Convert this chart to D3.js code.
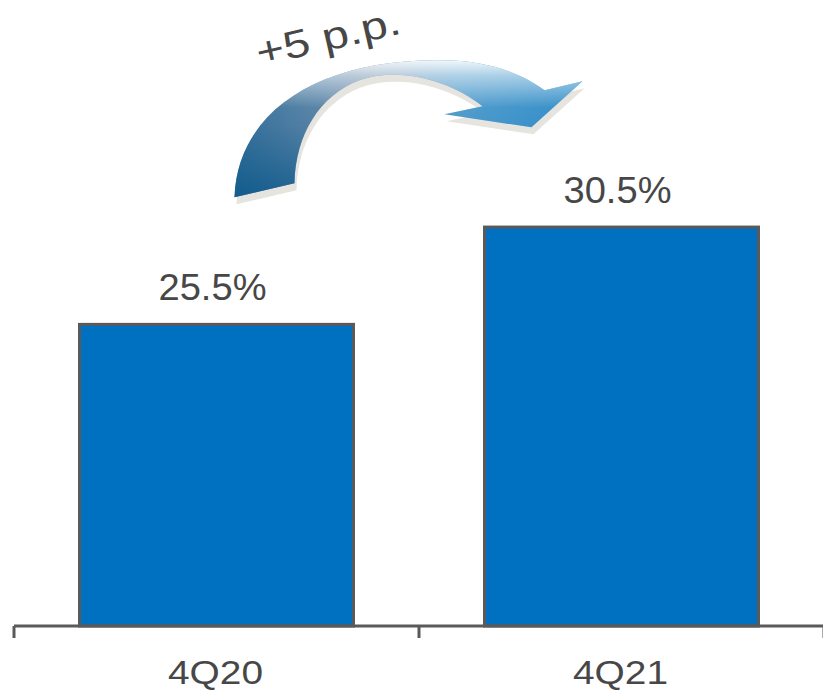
<!DOCTYPE html>
<html>
<head>
<meta charset="utf-8">
<script src="https://cdn.jsdelivr.net/npm/d3@7"></script>
<style>
  html, body { margin: 0; padding: 0; background: #ffffff; }
  svg { display: block; }
</style>
</head>
<body>
<div id="chart"></div>
<script>
const categories = ["4Q20", "4Q21"];
const values = [25.5, 30.5];
const valueLabels = ["25.5%", "30.5%"];
const changeLabel = "+5 p.p.";

const W = 823, H = 691;
const svg = d3.select("#chart").append("svg")
  .attr("width", W).attr("height", H);

const baseY = 626;
const x = d3.scaleBand().domain(categories).range([14, 824])
  .paddingInner(0.3235).paddingOuter(0.3235 / 2);
const y = d3.scaleLinear().domain([10, 40]).range([baseY, baseY - 30 * 19.46]);

const textColor = "#474747";
const edge = "#5a5a5a";

// bars
svg.selectAll("rect.bar").data(values).enter().append("rect")
  .attr("class", "bar")
  .attr("x", (d, i) => x(categories[i]))
  .attr("y", d => y(d))
  .attr("width", x.bandwidth())
  .attr("height", d => y.range()[0] - y(d))
  .attr("fill", "#0070c0")
  .attr("stroke", edge)
  .attr("stroke-width", 3);

// axis
const step = x.step();
const r0 = x.range()[0];
svg.append("line")
  .attr("x1", r0).attr("x2", W)
  .attr("y1", baseY).attr("y2", baseY)
  .attr("stroke", edge).attr("stroke-width", 3);
d3.range(categories.length + 1).forEach(i => {
  svg.append("line")
    .attr("x1", r0 + i * step).attr("x2", r0 + i * step)
    .attr("y1", baseY).attr("y2", baseY + 12)
    .attr("stroke", edge).attr("stroke-width", 3);
});

// category labels
svg.selectAll("text.cat").data(categories).enter().append("text")
  .attr("class", "cat")
  .attr("x", d => x(d) + x.bandwidth() / 2 - 1)
  .attr("y", 684)
  .attr("text-anchor", "middle")
  .attr("font-family", "Liberation Sans, Arial, sans-serif")
  .attr("font-size", 33)
  .attr("textLength", 95)
  .attr("lengthAdjust", "spacingAndGlyphs")
  .attr("fill", textColor)
  .text(d => d);

// value labels
svg.selectAll("text.val").data(values).enter().append("text")
  .attr("class", "val")
  .attr("x", (d, i) => x(categories[i]) + x.bandwidth() / 2 - 4)
  .attr("y", d => y(d) - 24)
  .attr("text-anchor", "middle")
  .attr("font-family", "Liberation Sans, Arial, sans-serif")
  .attr("font-size", 37)
  .attr("textLength", 108)
  .attr("lengthAdjust", "spacingAndGlyphs")
  .attr("fill", textColor)
  .text((d, i) => valueLabels[i]);

// curved arrow annotation, positioned relative to first bar
const ox = x(categories[0]) + x.bandwidth() / 2;   // ~217
const oy = y(values[0]);                            // ~324
function arrowPath(dx, dy) {
  const p = d3.path();
  const P = (a, b) => [ox + a + dx, oy + b + dy];
  p.moveTo(...P(18, -127));
  p.bezierCurveTo(...P(21, -214), ...P(103, -264), ...P(220, -264));
  p.bezierCurveTo(...P(273, -265), ...P(308, -249), ...P(328, -234));
  p.lineTo(...P(366, -243));
  p.lineTo(...P(315, -197));
  p.lineTo(...P(228, -210));
  p.lineTo(...P(266, -218));
  p.bezierCurveTo(...P(233, -244), ...P(183, -258), ...P(143, -244));
  p.bezierCurveTo(...P(103, -229), ...P(79, -189), ...P(78, -141));
  p.closePath();
  return p.toString();
}

const defs = svg.append("defs");
const g1 = defs.append("linearGradient").attr("id", "baseGrad")
  .attr("gradientUnits", "userSpaceOnUse")
  .attr("x1", ox + 18).attr("y1", 0).attr("x2", ox + 366).attr("y2", 0);
g1.append("stop").attr("offset", 0).attr("stop-color", "#1d5f8e");
g1.append("stop").attr("offset", 0.4).attr("stop-color", "#5f83a6");
g1.append("stop").attr("offset", 0.65).attr("stop-color", "#3a8fc6");
g1.append("stop").attr("offset", 1).attr("stop-color", "#1880c2");
const g2 = defs.append("linearGradient").attr("id", "lightGrad")
  .attr("gradientUnits", "userSpaceOnUse")
  .attr("x1", 0).attr("y1", oy - 266).attr("x2", 0).attr("y2", oy - 125);
g2.append("stop").attr("offset", 0).attr("stop-color", "#ffffff").attr("stop-opacity", 0.97);
g2.append("stop").attr("offset", 0.12).attr("stop-color", "#ffffff").attr("stop-opacity", 0.6);
g2.append("stop").attr("offset", 0.35).attr("stop-color", "#ffffff").attr("stop-opacity", 0.12);
g2.append("stop").attr("offset", 1).attr("stop-color", "#ffffff").attr("stop-opacity", 0);
const g3 = defs.append("linearGradient").attr("id", "darkGrad")
  .attr("gradientUnits", "userSpaceOnUse")
  .attr("x1", 0).attr("y1", oy - 200).attr("x2", 0).attr("y2", oy - 127);
g3.append("stop").attr("offset", 0).attr("stop-color", "#0d5a8c").attr("stop-opacity", 0);
g3.append("stop").attr("offset", 1).attr("stop-color", "#0d5a8c").attr("stop-opacity", 0.7);

svg.append("path").attr("d", arrowPath(2, 7)).attr("fill", "#e6e4df");
svg.append("path").attr("d", arrowPath(0, 0)).attr("fill", "url(#baseGrad)");
svg.append("path").attr("d", arrowPath(0, 0)).attr("fill", "url(#darkGrad)");
svg.append("path").attr("d", arrowPath(0, 0)).attr("fill", "url(#lightGrad)");

svg.append("text")
  .attr("transform", `translate(${ox + 43},${oy - 258}) rotate(-13)`)
  .attr("font-family", "Liberation Sans, Arial, sans-serif")
  .attr("font-size", 39)
  .attr("textLength", 147)
  .attr("lengthAdjust", "spacingAndGlyphs")
  .attr("fill", textColor)
  .text(changeLabel);
</script>
</body>
</html>
